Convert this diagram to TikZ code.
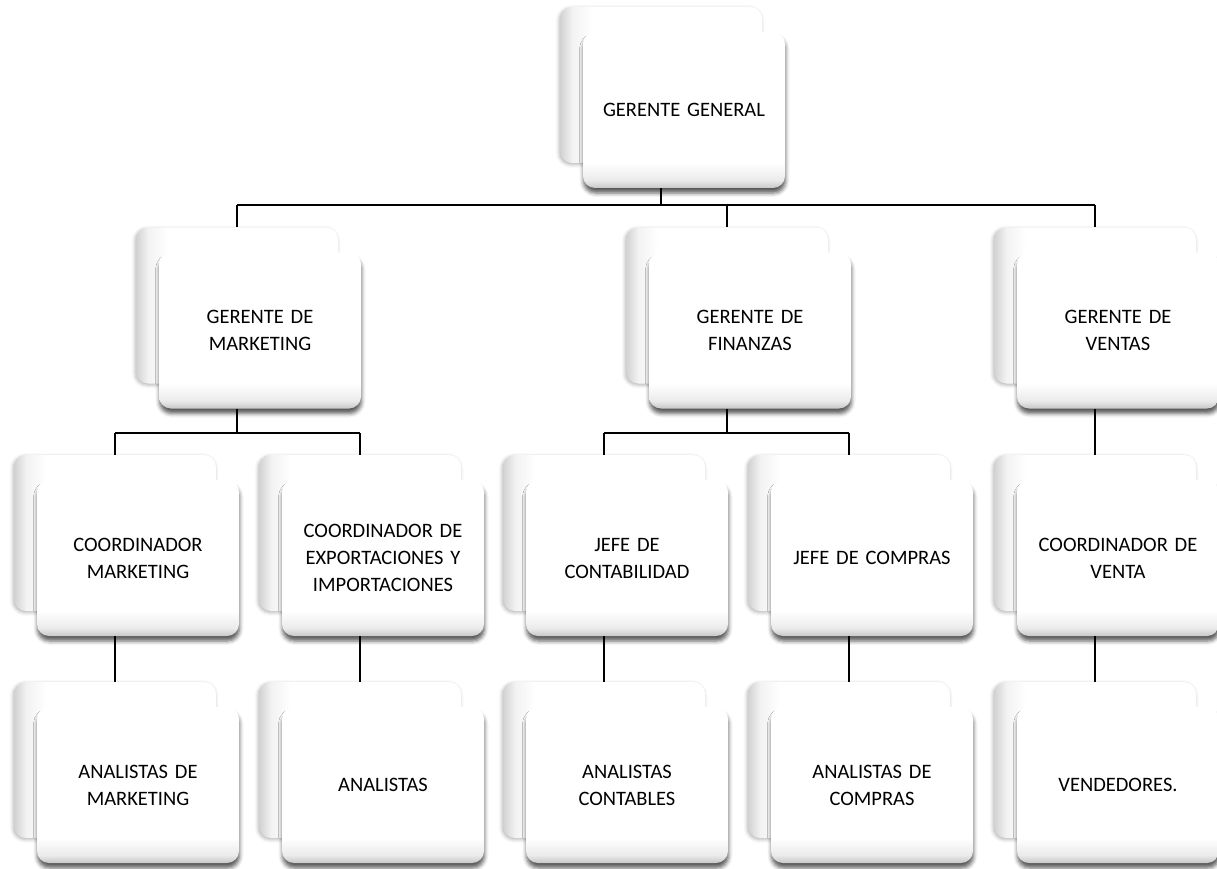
\documentclass[tikz,border=0pt]{standalone}
\usepackage{fontspec}
\setmainfont{Carlito}
\usetikzlibrary{shadows.blur}
\pgfdeclarehorizontalshading{backsh}{100bp}{color(0bp)=(black!18); color(25bp)=(black!18); color(28bp)=(black!5); color(33bp)=(white); color(100bp)=(white)}
\pgfdeclareverticalshading{frontsh}{100bp}{color(0bp)=(black!22); color(25bp)=(black!22); color(27.5bp)=(black!8); color(33bp)=(white); color(100bp)=(white)}
\tikzset{
  card/.style={rectangle, rounded corners=12pt, minimum width=202pt, minimum height=156pt, inner sep=0pt},
  backcard/.style={card, shading=backsh, draw=none,
     blur shadow={shadow xshift=-1pt, shadow yshift=-1.5pt, shadow blur radius=3.5pt, shadow opacity=30}},
  frontcard/.style={card, shading=frontsh, draw=none, align=center, text width=185pt,
     font=\fontsize{20.5}{27}\selectfont, text=black,
     blur shadow={shadow xshift=0.5pt, shadow yshift=-5pt, shadow blur radius=4pt, shadow opacity=65}},
  conn/.style={draw=black, line width=1.8pt}
}
\newcommand\orgunit[4]{%
  \node[backcard] (#1b) at (#2,#3) {};
  \node[frontcard] (#1) at (#2+23,#3+25) {#4};}
\begin{document}
\begin{tikzpicture}[x=1pt,y=-1pt]
\useasboundingbox (0,0) rectangle (1217,869);
\coordinate (bus1) at (0,205);
\coordinate (bus2) at (0,433);
% level 1
\orgunit{gg}{661}{85}{GERENTE GENERAL}
% level 2
\orgunit{mkt}{237}{305.5}{GERENTE DE\\MARKETING}
\orgunit{fin}{727}{305.5}{GERENTE DE\\FINANZAS}
\orgunit{ven}{1095}{305.5}{GERENTE DE\\VENTAS}
% level 3
\orgunit{cmk}{115}{533}{COORDINADOR\\MARKETING}
\orgunit{cex}{360}{533}{COORDINADOR DE\\EXPORTACIONES Y\\IMPORTACIONES}
\orgunit{jco}{604}{533}{JEFE DE\\CONTABILIDAD}
\orgunit{jcp}{849}{533}{JEFE DE COMPRAS}
\orgunit{cvt}{1095}{533}{COORDINADOR DE\\VENTA}
% level 4
\orgunit{amk}{115}{760}{ANALISTAS DE\\MARKETING}
\orgunit{ana}{360}{760}{ANALISTAS}
\orgunit{aco}{604}{760}{ANALISTAS\\CONTABLES}
\orgunit{acp}{849}{760}{ANALISTAS DE\\COMPRAS}
\orgunit{vnd}{1095}{760}{VENDEDORES.}
% connectors
\draw[conn] (ggb |- gg.south) -- (ggb |- bus1);
\draw[conn] (mktb |- bus1) -- (venb |- bus1);
\draw[conn] (mktb |- bus1) -- (mktb.north);
\draw[conn] (finb |- bus1) -- (finb.north);
\draw[conn] (venb |- bus1) -- (venb.north);
\draw[conn] (mktb |- mkt.south) -- (mktb |- bus2);
\draw[conn] (cmkb |- bus2) -- (cexb |- bus2);
\draw[conn] (cmkb |- bus2) -- (cmkb.north);
\draw[conn] (cexb |- bus2) -- (cexb.north);
\draw[conn] (finb |- fin.south) -- (finb |- bus2);
\draw[conn] (jcob |- bus2) -- (jcpb |- bus2);
\draw[conn] (jcob |- bus2) -- (jcob.north);
\draw[conn] (jcpb |- bus2) -- (jcpb.north);
\draw[conn] (venb |- ven.south) -- (cvtb.north);
\draw[conn] (cmkb |- cmk.south) -- (amkb.north);
\draw[conn] (cexb |- cex.south) -- (anab.north);
\draw[conn] (jcob |- jco.south) -- (acob.north);
\draw[conn] (jcpb |- jcp.south) -- (acpb.north);
\draw[conn] (cvtb |- cvt.south) -- (vndb.north);
\end{tikzpicture}
\end{document}
